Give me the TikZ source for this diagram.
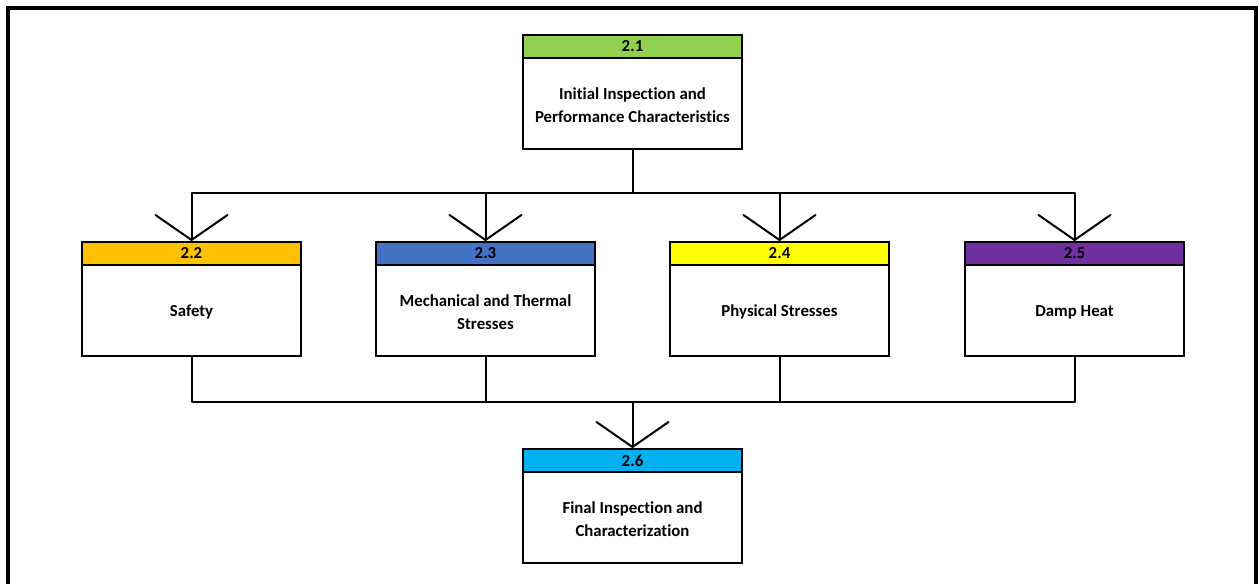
\documentclass[tikz,border=0pt]{standalone}
\usepackage{fontspec}
\setmainfont{Carlito}[Ligatures={NoCommon}]
\usetikzlibrary{arrows.meta,positioning}
\definecolor{cgreen}{HTML}{92D050}
\definecolor{corange}{HTML}{FFC000}
\definecolor{cblue}{HTML}{4472C4}
\definecolor{cyellow}{HTML}{FFFF00}
\definecolor{cpurple}{HTML}{7030A0}
\definecolor{ccyan}{HTML}{00B0F0}
\tikzset{
  hdr/.style={draw, line width=2pt, minimum width=219pt, minimum height=23pt,
    inner sep=0pt, anchor=north, font=\bfseries\fontsize{16.8}{18}\selectfont},
  body/.style={draw, line width=2pt, fill=white, minimum width=219pt, inner sep=0pt,
    align=center, font=\bfseries\fontsize{16.8}{22.5}\selectfont},
  label/.style={body, draw=none, fill=none, yshift=-1.5pt},
  link/.style={line width=2pt, line join=round},
  arr/.style={link, -{Straight Barb[length=25pt, width=72pt, line width=2pt, round]}}
}
\newcommand{\stagebox}[6]{%
  \node[hdr, fill=#4] (#1h) at (#2,#3) {#5};
  \node[body, minimum height=#6pt, below=-2pt of #1h] (#1) {};
}
\begin{document}
\begin{tikzpicture}[x=1pt, y=-1pt]
  \useasboundingbox (0,0) rectangle (1259,584);
  % outer frame, open at the bottom
  \draw[line width=4pt] (8,584) -- (8,8) -- (1256,8) -- (1256,584);

  % stage boxes
  \stagebox{s1}{632.5}{34}{cgreen}{2.1}{91}
  \node[label] at (s1) {Initial Inspection and\\Performance Characteristics};
  \stagebox{s2}{191.5}{241}{corange}{2.2}{91}
  \node[label] at (s2) {Safety};
  \stagebox{s3}{485.5}{241}{cblue}{2.3}{91}
  \node[label] at (s3) {Mechanical and Thermal\\Stresses};
  \stagebox{s4}{779.5}{241}{cyellow}{2.4}{91}
  \node[label] at (s4) {Physical Stresses};
  \stagebox{s5}{1074.5}{241}{cpurple}{2.5}{91}
  \node[label] at (s5) {Damp Heat};
  \stagebox{s6}{632.5}{448}{ccyan}{2.6}{91}
  \node[label] at (s6) {Final Inspection and\\Characterization};

  % fan-out from 2.1
  \coordinate (split) at (632.5,193);
  \draw[link] (s1.south) -- (split);
  \draw[arr] (split) -| (s2h.north);
  \draw[arr] (split) -| (s3h.north);
  \draw[arr] (split) -| (s4h.north);
  \draw[arr] (split) -| (s5h.north);

  % merge into 2.6
  \coordinate (merge) at (632.5,402);
  \draw[link] (s2.south) |- (merge);
  \draw[link] (s3.south) |- (merge);
  \draw[link] (s4.south) |- (merge);
  \draw[link] (s5.south) |- (merge);
  \draw[arr] (merge) -- (s6h.north);
\end{tikzpicture}
\end{document}
